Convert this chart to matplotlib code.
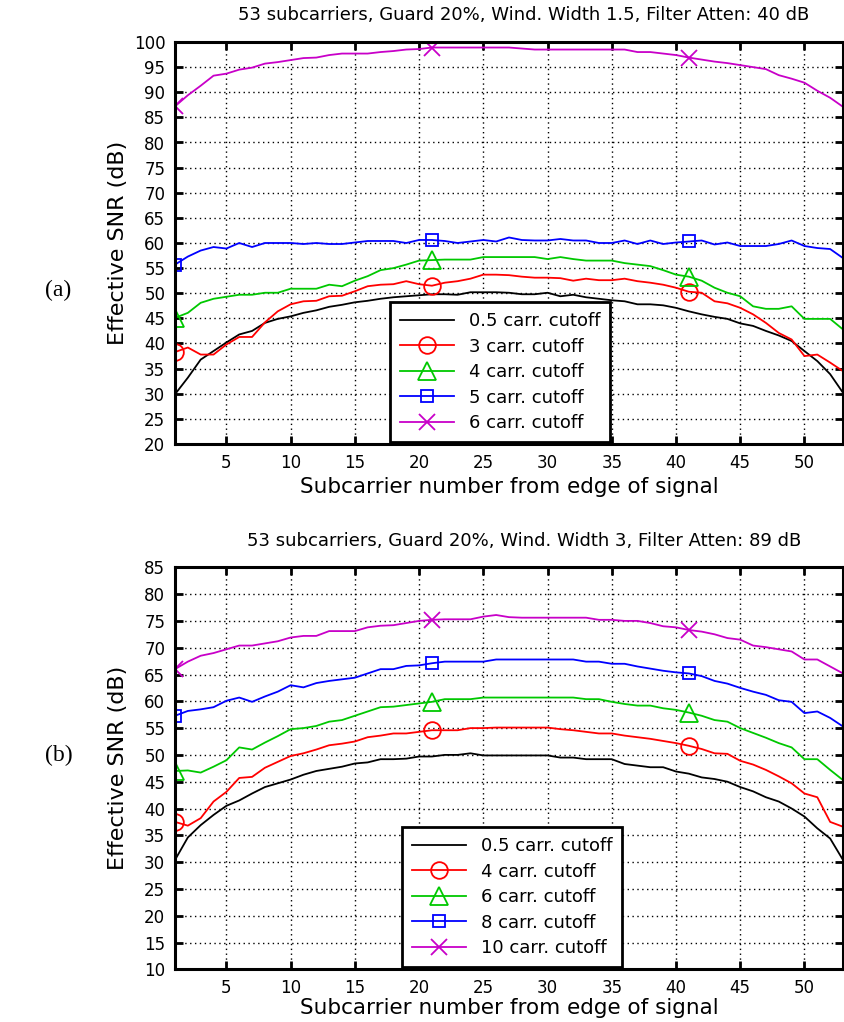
import numpy as np
import matplotlib
matplotlib.use("Agg")
import matplotlib.pyplot as plt

plt.rcParams['font.family'] = ['DejaVu Sans']

carriers = np.arange(1, 54)

# panel (a): window width 1.5, filter attenuation 40 dB
labels_a = ["0.5 carr. cutoff", "3 carr. cutoff", "4 carr. cutoff", "5 carr. cutoff", "6 carr. cutoff"]
snr_a_05 = [29.9, 33.2, 36.8, 38.5, 40.2, 41.8, 42.5, 44.1, 44.9, 45.4, 46.1, 46.6, 47.3, 47.7, 48.2, 48.5, 48.9, 49.2,
            49.4, 49.6, 49.8, 49.8, 49.7, 50.2, 50.2, 50.2, 50.1, 49.8, 49.8, 50.1, 49.4, 49.7, 49.2, 48.9, 48.6, 48.4,
            47.8, 47.8, 47.6, 47.1, 46.4, 45.8, 45.3, 44.9, 44.0, 43.5, 42.5, 41.6, 40.5, 38.5, 36.5, 33.9, 30.2]
snr_a_3 = [38.3, 39.2, 37.8, 37.8, 39.8, 41.3, 41.3, 44.2, 46.4, 47.8, 48.4, 48.5, 49.4, 49.5, 50.4, 51.4, 51.7, 51.8,
           52.4, 51.8, 51.5, 52.1, 52.4, 52.9, 53.7, 53.7, 53.6, 53.3, 53.1, 53.1, 53.0, 52.5, 52.9, 52.6, 52.6, 52.9,
           52.4, 52.1, 51.7, 51.1, 50.3, 50.1, 48.4, 48.0, 47.1, 45.8, 44.1, 42.1, 40.8, 37.5, 37.8, 36.2, 34.5]
snr_a_4 = [45.1, 46.1, 48.1, 48.9, 49.3, 49.7, 49.7, 50.1, 50.1, 50.9, 50.9, 50.9, 51.7, 51.4, 52.5, 53.4, 54.6, 55.0,
           55.7, 56.5, 56.6, 56.7, 56.7, 56.7, 57.2, 57.2, 57.2, 57.2, 57.2, 56.8, 57.2, 56.8, 56.5, 56.5, 56.5, 56.0,
           55.7, 55.4, 54.6, 53.7, 53.3, 52.5, 51.1, 50.1, 49.4, 47.4, 46.9, 46.9, 47.4, 44.9, 44.9, 44.9, 42.8]
snr_a_5 = [55.7, 57.3, 58.5, 59.2, 58.9, 60.0, 59.2, 60.0, 60.0, 60.0, 59.8, 60.0, 59.8, 59.8, 60.1, 60.4, 60.4, 60.4,
           60.0, 60.6, 60.6, 60.4, 60.0, 60.3, 60.6, 60.3, 61.1, 60.6, 60.5, 60.5, 60.8, 60.5, 60.5, 60.0, 60.0, 60.5,
           59.8, 60.5, 59.8, 60.1, 60.3, 60.5, 59.7, 60.1, 59.4, 59.4, 59.4, 59.8, 60.5, 59.4, 59.0, 58.8, 57.0]
snr_a_6 = [87.2, 89.4, 91.3, 93.3, 93.7, 94.5, 94.9, 95.7, 96.0, 96.4, 96.8, 96.9, 97.4, 97.7, 97.7, 97.7, 98.0, 98.2,
           98.5, 98.6, 98.9, 98.9, 98.9, 98.9, 98.9, 98.9, 98.9, 98.7, 98.5, 98.5, 98.5, 98.5, 98.5, 98.5, 98.5, 98.5,
           98.0, 98.0, 97.7, 97.4, 96.9, 96.5, 96.1, 95.8, 95.4, 95.0, 94.6, 93.4, 92.7, 91.9, 90.3, 88.9, 87.1]

# panel (b): window width 3, filter attenuation 89 dB
labels_b = ["0.5 carr. cutoff", "4 carr. cutoff", "6 carr. cutoff", "8 carr. cutoff", "10 carr. cutoff"]
snr_b_05 = [30.4, 34.6, 36.9, 38.8, 40.5, 41.5, 42.8, 44.0, 44.7, 45.4, 46.3, 47.0, 47.4, 47.8, 48.4, 48.6, 49.2, 49.2,
            49.3, 49.7, 49.7, 50.0, 50.0, 50.3, 49.9, 49.9, 49.9, 49.9, 49.9, 49.9, 49.5, 49.5, 49.2, 49.2, 49.2, 48.3,
            48.0, 47.7, 47.7, 46.9, 46.5, 45.8, 45.5, 45.0, 44.0, 43.2, 42.1, 41.3, 40.0, 38.5, 36.3, 34.4, 30.4]
snr_b_4 = [37.5, 36.8, 38.2, 41.3, 43.1, 45.7, 45.9, 47.6, 48.7, 49.8, 50.3, 51.0, 51.8, 52.1, 52.5, 53.3, 53.6, 54.0,
           54.0, 54.3, 54.6, 54.6, 54.6, 55.0, 55.0, 55.1, 55.1, 55.1, 55.1, 55.1, 54.8, 54.6, 54.3, 54.0, 54.0, 53.6,
           53.3, 53.0, 52.6, 52.2, 51.7, 51.1, 50.3, 50.2, 48.9, 48.2, 47.2, 46.0, 44.7, 42.8, 42.1, 37.5, 36.6]
snr_b_6 = [47.0, 47.1, 46.7, 47.8, 49.0, 51.4, 51.0, 52.3, 53.5, 54.8, 55.0, 55.4, 56.2, 56.5, 57.3, 58.1, 58.9, 59.0,
           59.3, 59.6, 59.9, 60.4, 60.4, 60.4, 60.7, 60.7, 60.7, 60.7, 60.7, 60.7, 60.7, 60.7, 60.4, 60.4, 59.9, 59.5,
           59.2, 59.2, 58.7, 58.4, 57.9, 57.3, 56.5, 56.2, 55.0, 54.1, 53.2, 52.2, 51.4, 49.2, 49.2, 47.2, 45.3]
snr_b_8 = [57.3, 58.2, 58.5, 58.9, 60.1, 60.7, 59.9, 60.9, 61.8, 63.0, 62.6, 63.4, 63.8, 64.1, 64.4, 65.2, 66.0, 66.0,
           66.6, 66.7, 67.1, 67.4, 67.4, 67.4, 67.4, 67.8, 67.8, 67.8, 67.8, 67.8, 67.8, 67.8, 67.4, 67.4, 67.0, 67.0,
           66.5, 66.1, 65.7, 65.4, 65.2, 64.7, 63.8, 63.3, 62.5, 61.8, 61.2, 60.2, 59.9, 57.8, 58.1, 56.9, 55.3]
snr_b_10 = [66.0, 67.4, 68.5, 69.0, 69.7, 70.4, 70.4, 70.8, 71.2, 71.9, 72.2, 72.2, 73.1, 73.1, 73.1, 73.8, 74.1, 74.2,
            74.6, 75.0, 75.2, 75.3, 75.3, 75.3, 75.8, 76.1, 75.7, 75.6, 75.6, 75.6, 75.6, 75.6, 75.6, 75.2, 75.2, 75.0,
            75.0, 74.6, 74.0, 73.8, 73.3, 73.0, 72.5, 71.8, 71.5, 70.4, 70.1, 69.7, 69.3, 67.8, 67.8, 66.5, 65.2]

colors = ['black', '#ff0000', '#00c800', '#0000ff', '#c800c8']
markers = [None, 'o', '^', 's', 'x']
msizes = [0, 12, 13, 9, 11]

fig = plt.figure(figsize=(8.45, 10.22), dpi=100)
ax_a = fig.add_axes([175/845, 1 - 444/1022, 668/845, 402/1022])
ax_b = fig.add_axes([175/845, 1 - 969.3/1022, 668/845, 402/1022])


def draw(ax, series, labels, ylo, yhi, title, title_y, leg_xy, xl_y, tag, tag_y):
    for i, s in enumerate(series):
        ax.plot(carriers, s, color=colors[i], lw=1.3, marker=markers[i], ms=msizes[i],
                mfc='none', mew=1.3, markevery=20, label=labels[i])
    ax.set_xlim(1, 53)
    ax.set_ylim(ylo, yhi)
    ax.set_xticks(range(5, 55, 5))
    ax.set_yticks(range(ylo, yhi + 1, 5))
    ax.grid(True, color='black', linestyle=(0, (1, 2.5)), lw=1.0)
    ax.tick_params(direction='in', length=6, width=2, top=True, right=True,
                   labelsize=12, pad=7)
    for sp in ax.spines.values():
        sp.set_linewidth(2.2)
    ax.set_xlabel("Subcarrier number from edge of signal", fontsize=15.5)
    ax.xaxis.set_label_coords(0.5, xl_y)
    ax.set_ylabel("Effective SNR (dB)", fontsize=16)
    ax.yaxis.set_label_coords(-0.07, 0.5)
    fig.text(524/845, title_y, title, fontsize=13, ha='center', va='center')
    leg = ax.legend(loc='upper left', bbox_to_anchor=leg_xy, borderaxespad=0, fontsize=13,
                    fancybox=False, framealpha=1, edgecolor='black', handlelength=3.0,
                    labelspacing=0.42, borderpad=0.55, handletextpad=0.8)
    leg.get_frame().set_linewidth(2)
    fig.text(45/845, tag_y, tag, family='Liberation Serif', fontsize=17, va='center')


draw(ax_a, [snr_a_05, snr_a_3, snr_a_4, snr_a_5, snr_a_6], labels_a, 20, 100,
     "53 subcarriers, Guard 20%, Wind. Width 1.5, Filter Atten: 40 dB", 1 - 15/1022,
     (0.322, 0.353), -0.083, "(a)", 1 - 290/1022)
draw(ax_b, [snr_b_05, snr_b_4, snr_b_6, snr_b_8, snr_b_10], labels_b, 10, 85,
     "53 subcarriers, Guard 20%, Wind. Width 3, Filter Atten: 89 dB", 1 - 541/1022,
     (0.340, 0.354), -0.072, "(b)", 1 - 755/1022)

fig.savefig("out.png", dpi=100)
